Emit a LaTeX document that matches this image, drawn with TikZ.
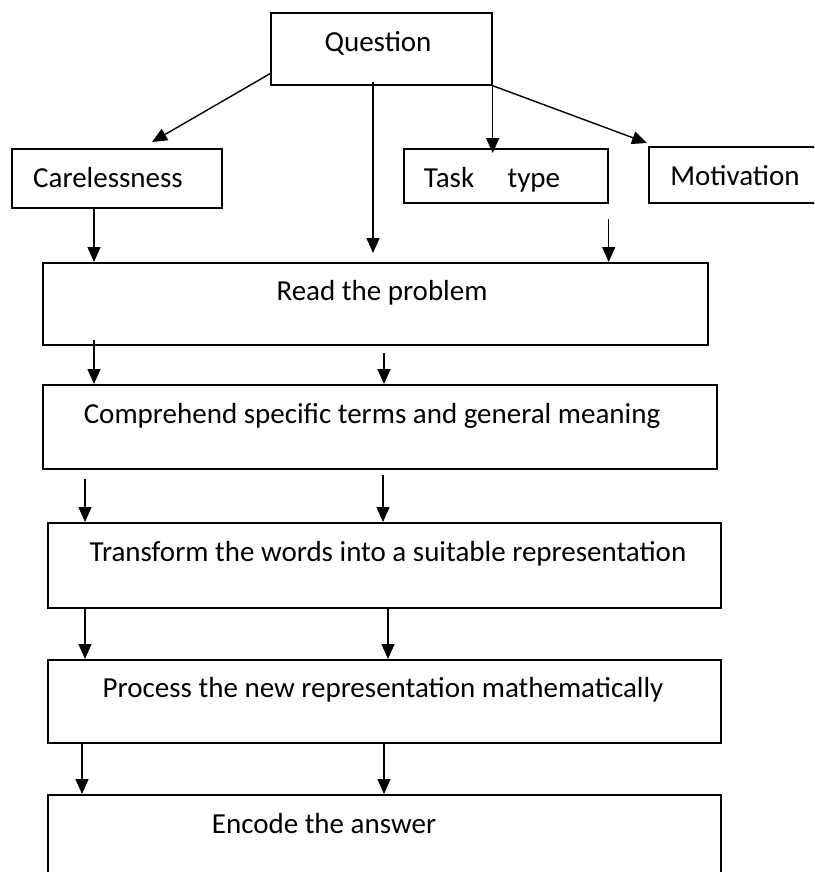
\documentclass[tikz,border=0pt]{standalone}
\usepackage{fontspec}
\setmainfont{Carlito}
\usetikzlibrary{arrows.meta,calc}
\begin{document}
\begin{tikzpicture}[x=1pt,y=-1pt,
  box/.style={draw,line width=1.7pt,rectangle,anchor=north west,inner sep=0pt},
  lbl/.style={anchor=base,inner sep=0pt,font=\fontsize{29}{35}\selectfont},
  flow/.style={line width=1.4pt,-{Triangle[length=15pt,width=13pt]}}]
\useasboundingbox (0,0) rectangle (814,872);
\clip (0,0) rectangle (814,872);
\fill[white] (0,0) rectangle (814,872);

% boxes
\node[box,minimum width=221pt,minimum height=72pt] (q) at (270,12) {};
\node[box,minimum width=210pt,minimum height=59pt] (care) at (11,148) {};
\node[box,minimum width=204pt,minimum height=54pt] (task) at (403,148) {};
\node[box,minimum width=200pt,minimum height=56pt] (mot) at (648,146) {};
\node[box,minimum width=665pt,minimum height=82pt] (read) at (42,262) {};
\node[box,minimum width=674pt,minimum height=84pt] (comp) at (42,384) {};
\node[box,minimum width=673pt,minimum height=85pt] (trans) at (47,522) {};
\node[box,minimum width=673pt,minimum height=83pt] (proc) at (47,659) {};
\node[box,minimum width=673pt,minimum height=120pt] (enc) at (47,794) {};

% labels
\node[lbl] (qt) at (378,52) {Question};
\node[lbl] (caret) at (108,187) {Carelessness};
\node[lbl] (taskt) at (492,187) {Task\hspace{1.15em}type};
\node[lbl] (mott) at (735,185) {Motivation};
\node[lbl] (readt) at (382,300) {Read the problem};
\node[lbl] (compt) at (372,423) {Comprehend specific terms and general meaning};
\node[lbl] (transt) at (388,561) {Transform the words into a suitable representation};
\node[lbl] (proct) at (383,697) {Process the new representation mathematically};
\node[lbl] (enct) at (324,833) {Encode the answer};

% connectors from the question
\draw[flow] ($(q.south west)+(0,-12)$) -- ($(care.north west)+(141,-6)$);
\draw[flow] ($(q.south west)+(103,-4)$) -- ($(read.north west)+(331,-9)$);
\draw[flow] (q.south east) -- ($(q.south east |- task.north)+(0,5)$);
\draw[flow] (q.south east) -- ($(mot.north west)+(-1,-3)$);

% into reading
\draw[flow] ($(care.south west)+(83,0)$) -- ($(read.north west)+(52,0)$);
\draw[flow] ($(task.south east)+(0,15)$) -- (task.south east |- read.north);

% down the chain
\draw[flow] ($(read.south west)+(52,-6)$) -- ($(comp.north west)+(52,0)$);
\draw[flow] ($(read.south west)+(342,7)$) -- ($(comp.north west)+(342,0)$);
\draw[flow] ($(comp.south west)+(43,9)$) -- ($(trans.north west)+(38,0)$);
\draw[flow] ($(comp.south west)+(341,5)$) -- ($(trans.north west)+(336,0)$);
\draw[flow] ($(trans.south west)+(38,0)$) -- ($(proc.north west)+(38,0)$);
\draw[flow] ($(trans.south west)+(341,0)$) -- ($(proc.north west)+(341,0)$);
\draw[flow] ($(proc.south west)+(35,0)$) -- ($(enc.north west)+(35,0)$);
\draw[flow] ($(proc.south west)+(337,0)$) -- ($(enc.north west)+(337,0)$);
\end{tikzpicture}
\end{document}
